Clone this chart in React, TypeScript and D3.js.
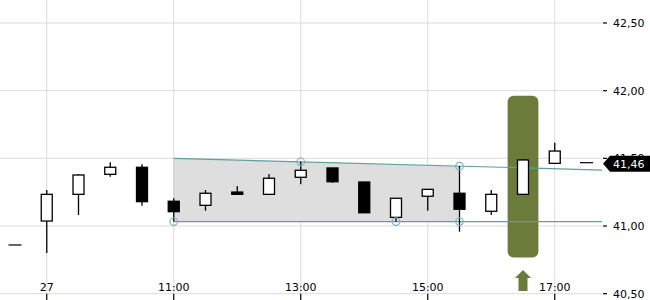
import React from "react";
import * as d3 from "d3";

const idx = [0, 1, 2, 3, 4, 5, 6, 7, 8, 9, 10, 11, 12, 13, 14, 15, 16, 17, 18];
const opens = [40.86, 41.037, 41.234, 41.382, 41.434, 41.183, 41.153, 41.251, 41.234, 41.36, 41.429, 41.325, 41.064, 41.22, 41.242, 41.109, 41.234, 41.463, 41.468];
const closes = [40.86, 41.234, 41.377, 41.434, 41.18, 41.106, 41.242, 41.234, 41.353, 41.412, 41.327, 41.098, 41.205, 41.271, 41.124, 41.234, 41.488, 41.554, 41.468];
const highs = [40.86, 41.266, 41.384, 41.471, 41.456, 41.205, 41.266, 41.296, 41.384, 41.475, 41.429, 41.325, 41.205, 41.271, 41.443, 41.266, 41.495, 41.616, 41.468];
const lows = [40.86, 40.8, 41.081, 41.364, 41.15, 41.033, 41.113, 41.234, 41.234, 41.308, 41.32, 41.098, 41.033, 41.113, 40.958, 41.081, 41.234, 41.463, 41.468];

const xTickIdx = [-1, 1, 5, 9, 13, 17];
const xTickLabels = ["17:00", "27", "11:00", "13:00", "15:00", "17:00"];
const yTicks = [40.5, 41.0, 41.5, 42.0, 42.5];

// trend channel
const upperStart = [5, 41.5];
const upperSlope = -0.0064; // per candle
const lowerLevel = 41.033;
const shadeEndIdx = 14;
const touchUpper = [9, 14];
const touchLower = [5, 12, 14];

const signalIdx = 16;
const signalRange = [40.768, 41.963];
const lastPrice = 41.46;

const W = 650;
const H = 300;
const plotRight = 602;

export default function App() {
  const x = d3.scaleLinear().domain([0, 18]).range([15, 586.5]);
  const y = d3.scaleLinear().domain([40.5, 42.5]).range([293.7, 23]);
  const fmt = (v: number) => d3.format(".2f")(v).replace(".", ",");
  const step = x(1) - x(0);
  const bw = 11;
  const upperAt = (i: number) => upperStart[1] + (i - upperStart[0]) * upperSlope;
  const endIdx = x.invert(plotRight);
  const teal = "#5d9fa3";
  const font = "DejaVu Sans, sans-serif";

  const shade = d3
    .area<number>()
    .x((i) => x(i))
    .y0(() => y(lowerLevel))
    .y1((i) => y(upperAt(i)))([upperStart[0], shadeEndIdx]);

  const sx = x(signalIdx);
  const arrowTop = 270;
  const arrowBot = 291;

  return (
    <svg width={W} height={H} style={{ position: "absolute", left: 0, top: 0 }} fontFamily={font}>
      <rect width={W} height={H} fill="#fff" />
      {/* grid */}
      {yTicks.map((t) => (
        <line key={"gy" + t} x1={0} x2={plotRight} y1={y(t)} y2={y(t)} stroke="#dcdcdc" strokeWidth={1} />
      ))}
      {xTickIdx.map((t, k) => (
        <line key={"gx" + k} x1={x(t)} x2={x(t)} y1={0} y2={y(40.5)} stroke="#dcdcdc" strokeWidth={1} />
      ))}
      {/* shaded channel */}
      <path d={shade || ""} fill="#dedede" />
      <line x1={x(upperStart[0])} x2={x(upperStart[0])} y1={y(upperAt(upperStart[0]))} y2={y(lowerLevel)} stroke="#cfcfcf" />
      {/* signal highlight */}
      <rect x={sx - step / 2 + 0.5} width={step - 1} y={y(signalRange[1])} height={y(signalRange[0]) - y(signalRange[1])} rx={6} fill="#6b7c3a" />
      {/* trend lines */}
      <line x1={x(upperStart[0])} x2={plotRight} y1={y(upperAt(upperStart[0]))} y2={y(upperAt(endIdx))} stroke={teal} strokeWidth={1.2} />
      <line x1={x(upperStart[0])} x2={plotRight} y1={y(lowerLevel)} y2={y(lowerLevel)} stroke={teal} strokeWidth={1.2} />
      {/* candles */}
      {idx.map((i) => {
        const o = opens[i], c = closes[i], h = highs[i], l = lows[i];
        const cx = x(i);
        const top = y(Math.max(o, c));
        const bot = y(Math.min(o, c));
        const up = c >= o;
        if (h === l) {
          return <line key={"c" + i} x1={cx - 6.5} x2={cx + 6.5} y1={y(o)} y2={y(o)} stroke="#000" strokeWidth={1.2} />;
        }
        return (
          <g key={"c" + i}>
            <line x1={cx} x2={cx} y1={y(h)} y2={y(l)} stroke="#000" strokeWidth={1.3} />
            <rect x={cx - bw / 2} width={bw} y={top} height={Math.max(bot - top, 1.5)} fill={up ? "#fff" : "#000"} stroke="#000" strokeWidth={1.3} />
          </g>
        );
      })}
      {/* touch circles */}
      {touchUpper.map((i) => (
        <circle key={"tu" + i} cx={x(i)} cy={y(upperAt(i))} r={3.8} fill="none" stroke="#7fb3ba" strokeWidth={1.2} />
      ))}
      {touchLower.map((i) => (
        <circle key={"tl" + i} cx={x(i)} cy={y(lowerLevel)} r={3.8} fill="none" stroke="#7fb3ba" strokeWidth={1.2} />
      ))}
      {/* arrow */}
      <path
        d={`M${sx},${arrowTop} L${sx + 8},${arrowTop + 8} L${sx + 4.5},${arrowTop + 8} L${sx + 4.5},${arrowBot} L${sx - 4.5},${arrowBot} L${sx - 4.5},${arrowTop + 8} L${sx - 8},${arrowTop + 8} Z`}
        fill="#6b7c3a"
      />
      {/* x axis */}
      {xTickIdx.map((t, k) => (
        <g key={"xt" + k}>
          <line x1={x(t)} x2={x(t)} y1={y(40.5)} y2={300} stroke="#000" strokeWidth={1.2} />
          <text x={x(t)} y={291} textAnchor="middle" fontSize={11} fill="#000">
            {xTickLabels[k]}
          </text>
        </g>
      ))}
      {/* y axis */}
      {yTicks.map((t) => (
        <g key={"yt" + t}>
          <line x1={603} x2={607} y1={y(t)} y2={y(t)} stroke="#000" strokeWidth={1.2} />
          <text x={613} y={y(t)} dy="0.35em" fontSize={11} fill="#000">
            {fmt(t)}
          </text>
        </g>
      ))}
      {/* last price tag */}
      <path
        d={`M${603},${y(lastPrice)} L${610},${y(lastPrice) - 8} L${W},${y(lastPrice) - 8} L${W},${y(lastPrice) + 8} L${610},${y(lastPrice) + 8} Z`}
        fill="#000"
      />
      <text x={613} y={y(lastPrice)} dy="0.35em" fontSize={11} fill="#fff">
        {fmt(lastPrice)}
      </text>
    </svg>
  );
}
